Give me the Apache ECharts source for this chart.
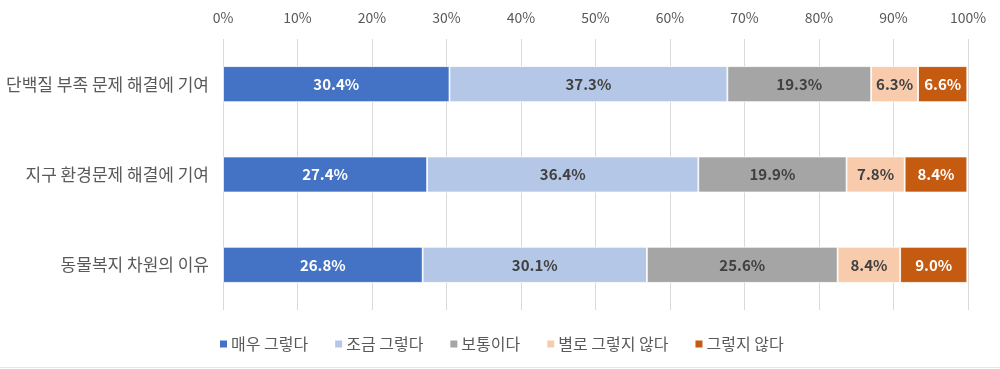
<!DOCTYPE html>
<html><head><meta charset="utf-8">
<script src="https://cdn.jsdelivr.net/npm/echarts@6/dist/echarts.min.js"></script>
<style>html,body{margin:0;padding:0;background:#fff}#c{width:1000px;height:369px}</style>
</head><body><div id="c"></div>
<script>
const categories = ['단백질 부족 문제 해결에 기여', '지구 환경문제 해결에 기여', '동물복지 차원의 이유'];
const seriesNames = ['매우 그렇다', '조금 그렇다', '보통이다', '별로 그렇지 않다', '그렇지 않다'];
const s1 = [30.4, 27.4, 26.8];
const s2 = [37.3, 36.4, 30.1];
const s3 = [19.3, 19.9, 25.6];
const s4 = [6.3, 7.8, 8.4];
const s5 = [6.6, 8.4, 9.0];
const tickLabels = ['0%','10%','20%','30%','40%','50%','60%','70%','80%','90%','100%'];
const colors = ['#4472C4', '#B4C7E7', '#A5A5A5', '#F8CBAD', '#C55A11'];
const labelColors = ['#FFFFFF', '#404040', '#404040', '#404040', '#FFFFFF'];
const FONT = '"Noto Sans CJK KR", "Noto Sans", sans-serif';
const allData = [s1, s2, s3, s4, s5];

const chart = echarts.init(document.getElementById('c'), null, {renderer: 'canvas'});
chart.setOption({
  animation: false,
  textStyle: {fontFamily: FONT},
  grid: {left: 223, right: 32, top: 39, bottom: 59},
  xAxis: {
    type: 'value', position: 'top', min: 0, max: 100, interval: 10,
    axisLine: {show: false}, axisTick: {show: false},
    splitLine: {lineStyle: {color: '#D9D9D9', width: 1}},
    axisLabel: {color: '#595959', fontSize: 14, fontFamily: FONT, margin: 14,
      formatter: v => tickLabels[Math.round(v / 10)]}
  },
  yAxis: {
    type: 'category', inverse: true, data: categories,
    axisLine: {show: false}, axisTick: {show: false},
    axisLabel: {color: '#595959', fontSize: 17, fontFamily: FONT, margin: 14}
  },
  legend: {
    bottom: 12, left: 213, itemWidth: 9, itemHeight: 9, itemGap: 25,
    icon: 'rect',
    textStyle: {color: '#595959', fontSize: 16, fontFamily: FONT, padding: [0,0,0,-2]},
    data: seriesNames
  },
  graphic: [{type: 'line', shape: {x1: 0, y1: 367.5, x2: 1000, y2: 367.5}, style: {stroke: '#E6E6E6', lineWidth: 1}}],
  series: seriesNames.map((n, i) => ({
    name: n, type: 'bar', stack: 'total', barWidth: 36,
    data: allData[i],
    itemStyle: {color: colors[i], borderColor: '#FFFFFF', borderWidth: 0.8},
    label: {show: true, position: 'inside', color: labelColors[i], fontWeight: 'bold',
      fontSize: 15, fontFamily: FONT, formatter: p => p.value.toFixed(1) + '%'}
  }))
});
</script></body></html>
